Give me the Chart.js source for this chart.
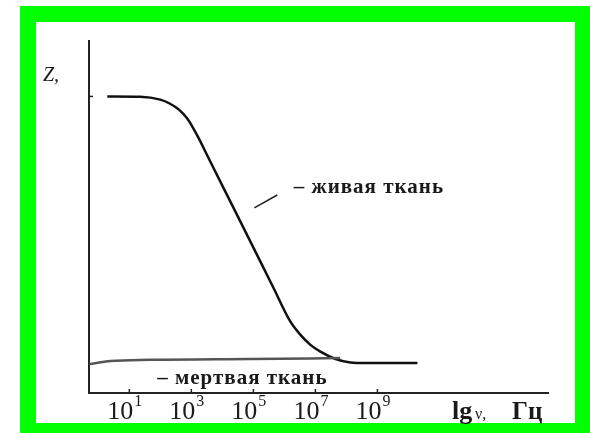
<!DOCTYPE html>
<html>
<head>
<meta charset="utf-8">
<script src="https://cdn.jsdelivr.net/npm/chart.js@4.4.1/dist/chart.umd.min.js"></script>
<style>
    html, body { margin: 0; padding: 0; background: #fff; }
    #wrap { width: 590px; height: 433px; position: relative; }
</style>
</head>
<body>
<div id="wrap"><canvas id="impedanceGraph" width="590" height="433"></canvas></div>
<script>
// lg(frequency) exponents and impedance (arbitrary units)
let liveLogFreq = [0.29, 1.35, 2.0, 2.3, 2.6, 2.85, 3.05, 3.24, 3.61, 4.36, 4.9, 5.65, 6.19, 6.52, 6.84, 7.16, 7.65, 8.13, 8.61, 10.29];
let liveZ = [10.11, 10.1, 10.0, 9.87, 9.66, 9.38, 9.05, 8.68, 7.89, 6.31, 5.17, 3.58, 2.44, 1.98, 1.64, 1.41, 1.16, 1.04, 1.02, 1.02];

let deadLogFreq = [-0.29, 0.39, 1.68, 4.9, 7.8];
let deadZ = [0.99, 1.09, 1.13, 1.16, 1.19];

let tickExp = [1, 3, 5, 7, 9];
let tickLabels = ['1', '3', '5', '7', '9'];

let liveLabel = '– живая ткань';
let deadLabel = '– мертвая ткань';
let yTitle = 'Z,';
let xTitle = 'lg';
let xNu = 'ν,';
let xUnit = 'Гц';

function toPoints(xs, ys) {
    return xs.map((x, i) => ({ x: x, y: ys[i] }));
}

// green frame behind everything
let framePlugin = {
    id: 'frame',
    beforeDraw(chart) {
        let c = chart.ctx;
        c.save();
        c.fillStyle = '#fff';
        c.fillRect(0, 0, chart.width, chart.height);
        c.fillStyle = '#00ff00';
        c.fillRect(20, 6, 570, 427);
        c.fillStyle = '#fff';
        c.fillRect(36, 22, 539, 401);
        c.restore();
    }
};

// tick marks, power-of-ten labels and the annotations
let labelsPlugin = {
    id: 'labels',
    afterDraw(chart) {
        let c = chart.ctx;
        let xs = chart.scales.x;
        let ys = chart.scales.y;
        let base = ys.getPixelForValue(0);
        c.save();
        c.strokeStyle = '#222';
        c.lineWidth = 1.5;
        tickExp.forEach(e => {
            let px = xs.getPixelForValue(e);
            c.beginPath();
            c.moveTo(px, base);
            c.lineTo(px, base - 4);
            c.stroke();
        });
        // plateau mark on the Z axis
        let py = ys.getPixelForValue(liveZ[0]);
        c.beginPath();
        c.moveTo(xs.left, py);
        c.lineTo(xs.left + 4, py);
        c.stroke();

        c.fillStyle = '#1a1a1a';
        c.textBaseline = 'alphabetic';
        tickExp.forEach((e, i) => {
            let px = xs.getPixelForValue(e);
            c.font = '26px "Liberation Serif"';
            let w1 = c.measureText('10').width;
            let x0 = px - 22;
            c.fillText('10', x0, 419);
            c.font = '16px "Liberation Serif"';
            c.fillText(tickLabels[i], x0 + w1 + 1, 406);
        });

        c.font = 'bold 26px "Liberation Serif"';
        c.fillText(xTitle, 452, 419);
        c.font = '16px "Liberation Serif"';
        c.fillText(xNu, 475, 419);
        c.font = 'bold 25px "Liberation Serif"';
        c.fillText(xUnit, 512, 419);

        c.font = 'italic 20px "Liberation Serif"';
        c.fillText(yTitle, 43, 81);

        c.font = 'bold 21px "Liberation Serif"';
        c.letterSpacing = '1px';
        c.textBaseline = 'middle';
        c.fillText(liveLabel, xs.getPixelForValue(6.3), ys.getPixelForValue(7.02));
        c.fillText(deadLabel, xs.getPixelForValue(1.9), ys.getPixelForValue(0.48));
        c.letterSpacing = '0px';

        // leader stroke next to the living-tissue label
        c.lineWidth = 1.5;
        c.beginPath();
        c.moveTo(xs.getPixelForValue(5.03), ys.getPixelForValue(6.31));
        c.lineTo(xs.getPixelForValue(5.77), ys.getPixelForValue(6.75));
        c.stroke();
        c.restore();
    }
};

var ctx = document.getElementById('impedanceGraph');
var myChart = new Chart(ctx, {
    type: 'line',
    data: {
        datasets: [{
            label: 'мертвая ткань',
            data: toPoints(deadLogFreq, deadZ),
            borderColor: '#555',
            borderWidth: 2.5,
            pointRadius: 0,
            cubicInterpolationMode: 'monotone'
        }, {
            label: 'живая ткань',
            data: toPoints(liveLogFreq, liveZ),
            borderColor: '#111',
            borderWidth: 2.5,
            pointRadius: 0,
            cubicInterpolationMode: 'monotone'
        }]
    },
    options: {
        responsive: false,
        animation: false,
        layout: { padding: { left: 89, right: 42, top: 41, bottom: 40 } },
        plugins: { legend: { display: false }, tooltip: { enabled: false } },
        scales: {
            x: {
                type: 'linear',
                min: -0.3,
                max: 14.5,
                grid: { display: false, drawTicks: false, tickLength: 0 },
                ticks: { display: false, padding: 0 },
                border: { display: true, color: '#222', width: 2 }
            },
            y: {
                min: 0,
                max: 12,
                grid: { display: false, drawTicks: false, tickLength: 0 },
                ticks: { display: false, padding: 0 },
                border: { display: true, color: '#222', width: 2 }
            }
        }
    },
    plugins: [framePlugin, labelsPlugin]
});
</script>
</body>
</html>
